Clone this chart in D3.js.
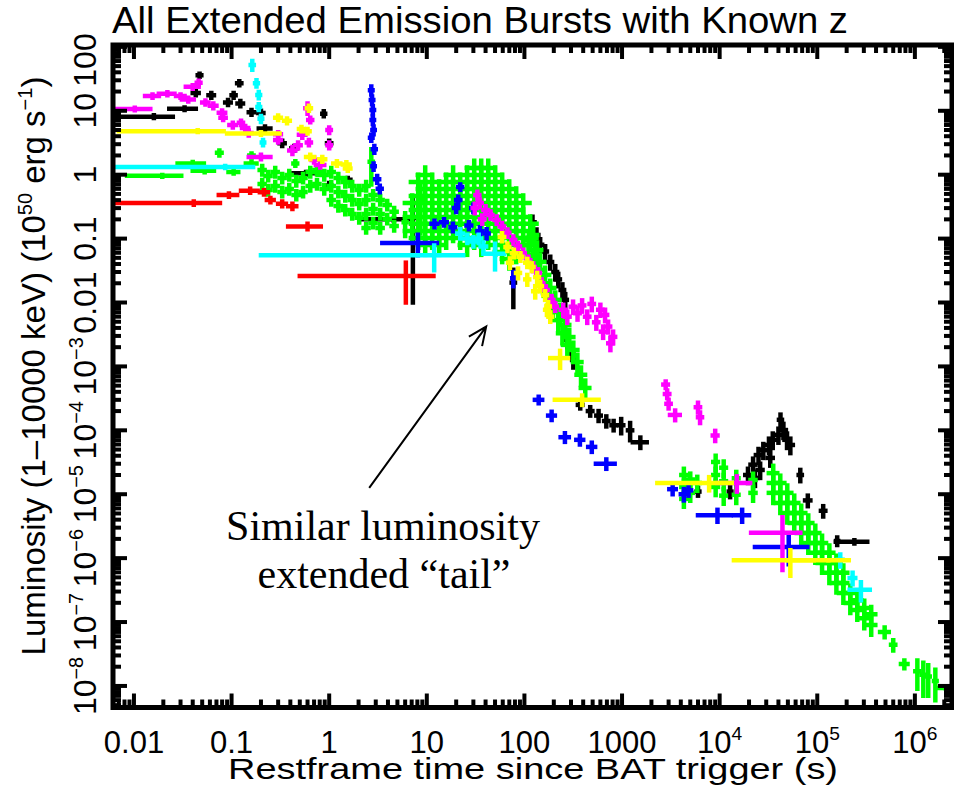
<!DOCTYPE html>
<html>
<head>
<meta charset="utf-8">
<script src="https://cdn.jsdelivr.net/npm/d3@7"></script>
<style>
  body { margin: 0; background: #fff; }
  svg { display: block; }
</style>
</head>
<body>
<svg id="chart" width="954" height="785"></svg>
<script>
// Each point: [time (s), time error, luminosity (1e50 erg/s), luminosity error]
const black = [
  [0.016, 0.009, 8.1, 0.4], [0.033, 0.01, 10.8, 0.5], [0.043, 0.003, 19, 1.5], [0.047, 0.002, 36, 2],
  [0.062, 0.004, 17.5, 1.5], [0.092, 0.006, 13.5, 1.2], [0.105, 0.005, 17.5, 1.5], [0.12, 0.006, 27, 2],
  [0.123, 0.008, 13, 1.2], [0.16, 0.01, 9.5, 0.8], [0.2, 0.012, 9.2, 0.8], [0.22, 0.03, 5.3, 0.4],
  [0.33, 0.02, 3.1, 0.3], [0.44, 0.03, 2.6, 0.2], [0.58, 0.15, 1.05, 0.05], [0.88, 0.03, 9, 0.8],
  [1.0, 0.05, 3.1, 0.3], [1.0, 0.05, 0.68, 0.06], [1.55, 0.1, 0.83, 0.06], [4.6, 2.5, 0.2, 0.01],
  [7.2, 0.3, 0.21, 0.2], [77, 3, 0.0205, 0.012],
  [121, 6, 0.18, 0.04], [133, 6, 0.114, 0.025], [145, 7, 0.08, 0.018], [163, 7, 0.063, 0.013],
  [184, 8, 0.043, 0.009], [207, 9, 0.03, 0.007], [222, 9, 0.023, 0.005], [245, 10, 0.0157, 0.0035],
  [262, 10, 0.011, 0.0025], [275, 8, 0.0026, 0.0006], [295, 8, 0.0018, 0.0004], [317, 9, 0.00126, 0.0003],
  [373, 20, 2.5e-4, 0.3e-4], [472, 25, 2.0e-4, 0.3e-4], [575, 30, 1.7e-4, 0.3e-4], [690, 35, 1.4e-4, 0.25e-4],
  [820, 40, 1.2e-4, 0.2e-4], [980, 50, 1.2e-4, 0.3e-4], [1210, 60, 1.0e-4, 0.3e-4], [1540, 250, 6.5e-5, 1.2e-5],
  [6000, 200, 1.1e-5, 0.15e-5], [1.28e4, 400, 1.1e-5, 0.2e-5],
  [1.95e4, 1200, 2.0e-5, 0.5e-5], [2.2e4, 1300, 2.9e-5, 0.7e-5], [2.3e4, 1400, 1.8e-5, 0.45e-5],
  [2.5e4, 1500, 4.1e-5, 1e-5], [2.6e4, 1500, 2.4e-5, 0.6e-5], [2.8e4, 1700, 4.9e-5, 1.2e-5],
  [3.2e4, 1900, 5.9e-5, 1.5e-5], [3.3e4, 2000, 3.7e-5, 0.9e-5], [3.5e4, 2100, 7.1e-5, 1.8e-5],
  [4.0e4, 2400, 8.5e-5, 2.1e-5], [4.2e4, 1500, 1.46e-4, 0.3e-4], [4.5e4, 2700, 1.01e-4, 0.25e-4],
  [4.9e4, 2900, 7.1e-5, 1.8e-5], [5.3e4, 3200, 5.9e-5, 1.5e-5], [6.7e4, 2500, 2.0e-5, 0.4e-5],
  [8.0e4, 5000, 8.0e-6, 1.5e-6], [1.15e5, 6000, 5.5e-6, 1e-6], [1.6e5, 4000, 1.85e-6, 0.25e-6],
  [2.4e5, 0.85e5, 1.8e-6, 0.1e-6]
];

const red = [
  [0.041, 0.035, 0.36, 0.02], [0.094, 0.02, 0.48, 0.03], [0.155, 0.03, 0.56, 0.04], [0.215, 0.02, 0.53, 0.04],
  [0.25, 0.02, 0.40, 0.03], [0.33, 0.03, 0.35, 0.03], [0.42, 0.04, 0.32, 0.03], [0.6, 0.22, 0.155, 0.015],
  [6.1, 5.6, 0.026, 0.016]
];

const green = [
  // prompt emission and early extended emission
  [0.0195, 0.011, 0.96, 0.03], [0.04, 0.012, 1.5, 0.08], [0.053, 0.013, 1.15, 0.06], [0.075, 0.004, 2.2, 0.2],
  [0.105, 0.012, 1.1, 0.06], [0.16, 0.02, 1.5, 0.1], [0.16, 0.008, 2.0, 0.15],
  [0.45, 0.02, 1.5, 0.12], [0.77, 0.04, 1.1, 0.1], [2.7, 0.1, 1.6, 0.9], [6.0, 0.2, 0.18, 0.07], [8.6, 0.2, 0.4, 0.28],
  [0.206, 0.012, 1.189, 0.18], [0.206, 0.012, 0.718, 0.11], [0.237, 0.014, 0.958, 0.14], [0.237, 0.014, 0.578, 0.09],
  [0.28, 0.017, 1.106, 0.17], [0.28, 0.017, 0.668, 0.1], [0.33, 0.02, 0.891, 0.13], [0.33, 0.02, 0.538, 0.08],
  [0.39, 0.023, 0.993, 0.15], [0.39, 0.023, 0.5995, 0.09], [0.46, 0.028, 0.80, 0.12], [0.46, 0.028, 0.483, 0.07],
  [0.54, 0.032, 0.891, 0.13], [0.54, 0.032, 0.538, 0.08], [0.64, 0.038, 1.106, 0.17], [0.64, 0.038, 0.668, 0.1],
  [0.75, 0.045, 1.189, 0.18], [0.75, 0.045, 0.718, 0.11], [0.89, 0.053, 0.993, 0.15], [0.89, 0.053, 0.5995, 0.09],
  [1.05, 0.063, 1.106, 0.17], [1.05, 0.063, 0.668, 0.1], [1.05, 0.063, 0.403, 0.06],
  [1.24, 0.074, 0.891, 0.13], [1.24, 0.074, 0.538, 0.08], [1.24, 0.074, 0.325, 0.05],
  [1.46, 0.088, 0.771, 0.12], [1.46, 0.088, 0.466, 0.07], [1.46, 0.088, 0.281, 0.04],
  [1.72, 0.1, 0.668, 0.1], [1.72, 0.1, 0.403, 0.06], [1.72, 0.1, 0.2435, 0.037],
  [2.03, 0.12, 0.578, 0.09], [2.03, 0.12, 0.349, 0.05], [2.03, 0.12, 0.211, 0.032],
  [2.39, 0.14, 0.668, 0.1], [2.39, 0.14, 0.403, 0.06], [2.39, 0.14, 0.2435, 0.037], [2.39, 0.14, 0.147, 0.022],
  [2.82, 0.17, 0.483, 0.07], [2.82, 0.17, 0.2917, 0.044], [2.82, 0.17, 0.176, 0.026],
  [3.33, 0.2, 0.403, 0.06], [3.33, 0.2, 0.2435, 0.037], [3.33, 0.2, 0.147, 0.022],
  [3.93, 0.24, 0.337, 0.05], [3.93, 0.24, 0.2034, 0.03], [4.63, 0.28, 0.262, 0.04], [4.63, 0.28, 0.158, 0.024],
  // main bump
  [7.09, 1.13, 0.362, 0.11], [7.09, 1.13, 0.2186, 0.066], [7.09, 1.13, 0.132, 0.04],
  [8.17, 1.3, 0.771, 0.23], [8.17, 1.3, 0.466, 0.14], [8.17, 1.3, 0.281, 0.084], [8.17, 1.3, 0.170, 0.051], [8.17, 1.3, 0.1026, 0.031],
  [9.63, 1.54, 0.993, 0.3], [9.63, 1.54, 0.5995, 0.18], [9.63, 1.54, 0.362, 0.11], [9.63, 1.54, 0.2186, 0.066], [9.63, 1.54, 0.132, 0.04], [9.63, 1.54, 0.0797, 0.024],
  [11.36, 1.82, 0.771, 0.23], [11.36, 1.82, 0.466, 0.14], [11.36, 1.82, 0.281, 0.084], [11.36, 1.82, 0.170, 0.051], [11.36, 1.82, 0.1026, 0.031],
  [13.4, 2.14, 0.5995, 0.18], [13.4, 2.14, 0.362, 0.11], [13.4, 2.14, 0.2186, 0.066], [13.4, 2.14, 0.132, 0.04], [13.4, 2.14, 0.0797, 0.024],
  [15.8, 2.53, 0.771, 0.23], [15.8, 2.53, 0.466, 0.14], [15.8, 2.53, 0.281, 0.084], [15.8, 2.53, 0.170, 0.051], [15.8, 2.53, 0.1026, 0.031],
  [18.6, 2.98, 0.993, 0.3], [18.6, 2.98, 0.5995, 0.18], [18.6, 2.98, 0.362, 0.11], [18.6, 2.98, 0.2186, 0.066], [18.6, 2.98, 0.132, 0.04],
  [22.0, 3.52, 0.771, 0.23], [22.0, 3.52, 0.466, 0.14], [22.0, 3.52, 0.281, 0.084], [22.0, 3.52, 0.170, 0.051], [22.0, 3.52, 0.1026, 0.031],
  [25.9, 4.14, 0.993, 0.3], [25.9, 4.14, 0.5995, 0.18], [25.9, 4.14, 0.362, 0.11], [25.9, 4.14, 0.2186, 0.066], [25.9, 4.14, 0.132, 0.04], [25.9, 4.14, 0.0797, 0.024],
  [30.6, 4.9, 1.278, 0.38], [30.6, 4.9, 0.771, 0.23], [30.6, 4.9, 0.466, 0.14], [30.6, 4.9, 0.281, 0.084], [30.6, 4.9, 0.170, 0.051], [30.6, 4.9, 0.1026, 0.031],
  [36.1, 5.78, 1.278, 0.38], [36.1, 5.78, 0.993, 0.3], [36.1, 5.78, 0.5995, 0.18], [36.1, 5.78, 0.362, 0.11], [36.1, 5.78, 0.2186, 0.066], [36.1, 5.78, 0.132, 0.04], [36.1, 5.78, 0.0797, 0.024],
  [42.6, 6.82, 1.278, 0.38], [42.6, 6.82, 0.771, 0.23], [42.6, 6.82, 0.466, 0.14], [42.6, 6.82, 0.281, 0.084], [42.6, 6.82, 0.170, 0.051], [42.6, 6.82, 0.1026, 0.031],
  [50.2, 8.03, 0.993, 0.3], [50.2, 8.03, 0.5995, 0.18], [50.2, 8.03, 0.362, 0.11], [50.2, 8.03, 0.2186, 0.066], [50.2, 8.03, 0.132, 0.04], [50.2, 8.03, 0.0797, 0.024],
  [59.2, 9.47, 0.771, 0.23], [59.2, 9.47, 0.466, 0.14], [59.2, 9.47, 0.281, 0.084], [59.2, 9.47, 0.170, 0.051], [59.2, 9.47, 0.1026, 0.031], [59.2, 9.47, 0.0619, 0.019],
  [69.9, 11.2, 0.5995, 0.18], [69.9, 11.2, 0.362, 0.11], [69.9, 11.2, 0.2186, 0.066], [69.9, 11.2, 0.132, 0.04], [69.9, 11.2, 0.0797, 0.024], [69.9, 11.2, 0.0481, 0.014],
  [82.4, 13.2, 0.466, 0.14], [82.4, 13.2, 0.281, 0.084], [82.4, 13.2, 0.170, 0.051], [82.4, 13.2, 0.1026, 0.031], [82.4, 13.2, 0.0619, 0.019],
  [97.2, 15.6, 0.362, 0.11], [97.2, 15.6, 0.2186, 0.066], [97.2, 15.6, 0.132, 0.04], [97.2, 15.6, 0.0797, 0.024],
  [114.7, 18.4, 0.170, 0.051], [114.7, 18.4, 0.1026, 0.031],
  // steep decay
  [110, 11, 0.0797, 0.024], [115, 11.5, 0.0955, 0.029], [123, 12, 0.114, 0.034], [123, 12, 0.05, 0.015],
  [129, 13, 0.0556, 0.017], [135, 13.5, 0.0665, 0.02], [138, 14, 0.0324, 0.01], [145, 14.5, 0.0432, 0.013],
  [155, 15.5, 0.02, 0.006], [163, 16, 0.027, 0.008], [175, 17.5, 0.0127, 0.0038], [184, 18, 0.0169, 0.005],
  [196, 20, 0.0082, 0.0025], [207, 21, 0.011, 0.0033], [222, 22, 0.0053, 0.0016], [233, 23, 0.0071, 0.0021],
  [245, 24, 0.0033, 0.001], [262, 26, 0.00446, 0.0013], [275, 27, 0.00217, 0.00065], [288, 29, 0.00288, 0.00086],
  [317, 32, 0.00181, 0.00054], [349, 35, 0.00117, 0.00035], [380, 38, 7.4e-4, 2.2e-4], [420, 42, 4.6e-4, 1.4e-4],
  // late plateau
  [4300, 250, 2.0e-5, 0.5e-5], [4300, 250, 1.3e-5, 0.32e-5], [4300, 250, 8.45e-6, 2.1e-6],
  [5000, 300, 1.7e-5, 0.4e-5], [5000, 300, 1.05e-5, 0.26e-5], [5900, 350, 1.5e-5, 0.37e-5],
  [9100, 500, 3.2e-5, 0.8e-5], [9100, 500, 2.0e-5, 0.5e-5], [9100, 500, 1.3e-5, 0.33e-5],
  [1.1e4, 600, 2.6e-5, 0.65e-5], [1.1e4, 600, 1.6e-5, 0.4e-5], [1.1e4, 600, 9.5e-6, 2.4e-6],
  [1.48e4, 800, 1.78e-5, 0.45e-5], [1.48e4, 800, 9.8e-6, 2.5e-6],
  [2.2e4, 1300, 1.67e-5, 0.42e-5], [2.2e4, 1300, 1.05e-5, 0.26e-5],
  // late decay
  [3.54e4, 3500, 2.14e-5, 0.64e-5], [3.54e4, 3500, 1.5e-5, 0.45e-5], [3.54e4, 3500, 1.05e-5, 0.32e-5],
  [4.18e4, 4200, 1.5e-5, 0.45e-5], [4.18e4, 4200, 1.05e-5, 0.32e-5], [4.18e4, 4200, 7.3e-6, 2.2e-6],
  [4.93e4, 4900, 1.05e-5, 0.32e-5], [4.93e4, 4900, 7.3e-6, 2.2e-6], [4.93e4, 4900, 5.1e-6, 1.5e-6],
  [5.81e4, 5800, 7.3e-6, 2.2e-6], [5.81e4, 5800, 5.1e-6, 1.5e-6], [5.81e4, 5800, 3.56e-6, 1.07e-6],
  [6.85e4, 6900, 5.1e-6, 1.5e-6], [6.85e4, 6900, 3.56e-6, 1.07e-6], [6.85e4, 6900, 2.48e-6, 0.74e-6],
  [8.09e4, 8100, 3.56e-6, 1.07e-6], [8.09e4, 8100, 2.48e-6, 0.74e-6], [8.09e4, 8100, 1.73e-6, 0.52e-6],
  [9.55e4, 9500, 2.48e-6, 0.74e-6], [9.55e4, 9500, 1.73e-6, 0.52e-6], [9.55e4, 9500, 1.21e-6, 0.36e-6],
  [1.12e5, 1.1e4, 1.73e-6, 0.52e-6], [1.12e5, 1.1e4, 1.21e-6, 0.36e-6], [1.12e5, 1.1e4, 8.4e-7, 2.5e-7],
  [1.33e5, 1.3e4, 1.21e-6, 0.36e-6], [1.33e5, 1.3e4, 8.4e-7, 2.5e-7], [1.33e5, 1.3e4, 5.9e-7, 1.8e-7],
  [1.57e5, 1.6e4, 8.4e-7, 2.5e-7], [1.57e5, 1.6e4, 5.9e-7, 1.8e-7], [1.57e5, 1.6e4, 4.1e-7, 1.2e-7],
  [1.85e5, 1.8e4, 5.9e-7, 1.8e-7], [1.85e5, 1.8e4, 4.1e-7, 1.2e-7], [1.85e5, 1.8e4, 2.85e-7, 0.85e-7],
  [2.18e5, 2.2e4, 2.85e-7, 0.85e-7], [2.18e5, 2.2e4, 1.99e-7, 0.6e-7],
  [2.57e5, 2.6e4, 2.2e-7, 0.66e-7], [2.57e5, 2.6e4, 1.55e-7, 0.46e-7],
  [3.03e5, 3e4, 1.66e-7, 0.5e-7], [3.03e5, 3e4, 1.15e-7, 0.35e-7],
  [3.57e5, 3.6e4, 1.32e-7, 0.4e-7], [3.57e5, 3.6e4, 9e-8, 2.7e-8],
  [4.9e5, 5e4, 7e-8, 1.2e-8], [6e5, 3e4, 4.4e-8, 0.8e-8], [7.8e5, 6e4, 2.2e-8, 0.3e-8],
  [1.06e6, 0.05e6, 1.7e-8, 0.8e-8], [1.22e6, 0.05e6, 1.5e-8, 0.8e-8], [1.37e6, 0.05e6, 1.4e-8, 0.7e-8],
  [1.62e6, 0.05e6, 1.2e-8, 0.6e-8], [2.05e6, 0.38e6, 9.3e-9, 0], [2.42e6, 0.02e6, 8e-9, 4e-9]
];

const blue = [
  [2.7, 0.08, 21, 3], [2.75, 0.08, 14.8, 2], [2.8, 0.08, 10.3, 1.5], [2.8, 0.08, 7.2, 1], [2.85, 0.08, 5.0, 0.7],
  [2.7, 0.08, 3.8, 0.4], [2.9, 0.1, 2.5, 0.3], [2.85, 0.08, 1.35, 0.15], [3.1, 0.15, 0.85, 0.1], [3.3, 0.15, 0.6, 0.07],
  [8.1, 4.6, 0.085, 0.03], [12, 0.8, 0.17, 0.02], [15, 1, 0.18, 0.02], [18.5, 1, 0.15, 0.02], [20, 1, 0.3, 0.04],
  [21, 1, 0.4, 0.05], [22, 1, 0.64, 0.06], [27, 1.5, 0.16, 0.02], [30, 1.5, 0.3, 0.04], [35, 2, 0.13, 0.02],
  [41, 2, 0.12, 0.02], [77, 2, 0.024, 0.006],
  [140, 12, 3.0e-4, 0.35e-4], [190, 15, 1.7e-4, 0.25e-4], [260, 25, 7.8e-5, 1.2e-5], [370, 30, 7.1e-5, 1.1e-5],
  [490, 40, 5.5e-5, 0.9e-5], [690, 150, 3.0e-5, 0.5e-5],
  [3300, 250, 1.2e-5, 0.2e-5], [4300, 300, 1.0e-5, 0.2e-5], [4800, 300, 1.15e-5, 0.2e-5],
  [9500, 3500, 4.7e-6, 1e-6], [1.7e4, 3000, 4.7e-6, 1e-6], [5.1e4, 2.8e4, 1.5e-6, 0.7e-6]
];

const cyan = [
  [0.086, 0.08, 1.32, 0.05], [0.163, 0.006, 52, 8], [0.18, 0.006, 27, 3], [0.19, 0.006, 17.7, 2],
  [0.19, 0.006, 11.5, 1.2], [0.2, 0.006, 7.5, 0.8], [0.21, 0.006, 3.2, 0.3],
  [11.9, 11.7, 0.055, 0.023], [22, 1.5, 0.12, 0.02], [26, 2, 0.1, 0.015], [30, 2, 0.09, 0.015],
  [34, 2, 0.1, 0.015], [38, 2.5, 0.075, 0.012], [50, 12, 0.058, 0.025],
  [1.72e5, 0.1e5, 9.4e-7, 2e-7], [2.3e5, 0.15e5, 4.9e-7, 1e-7], [2.8e5, 0.65e5, 3.2e-7, 1e-7]
];

const magenta = [
  [0.0102, 0.0045, 10.7, 0.5], [0.0155, 0.0025, 17, 1], [0.022, 0.004, 18.5, 1], [0.03, 0.003, 17, 1],
  [0.036, 0.005, 15, 1], [0.04, 0.006, 23.7, 1.5], [0.046, 0.002, 27.5, 2], [0.054, 0.004, 13.5, 1],
  [0.065, 0.005, 12, 1], [0.08, 0.006, 9.3, 0.8], [0.082, 0.005, 7.8, 0.6], [0.103, 0.008, 6.0, 0.5],
  [0.125, 0.006, 6.5, 0.5], [0.138, 0.01, 5.4, 0.4], [0.15, 0.01, 4.5, 0.4], [0.2, 0.05, 1.9, 0.15],
  [0.3, 0.02, 4.3, 0.3], [0.3, 0.02, 3.5, 0.3], [0.42, 0.03, 2.4, 0.3], [0.48, 0.03, 2.9, 0.3],
  [0.53, 0.04, 4.2, 0.4], [0.6, 0.03, 11, 2], [0.64, 0.03, 7.2, 0.6], [0.62, 0.03, 3.2, 0.3],
  [0.81, 0.08, 1.42, 0.12], [0.7, 0.04, 1.7, 0.15], [1.0, 0.04, 5.0, 0.5], [1.0, 0.04, 2.9, 0.3],
  [33, 1.5, 0.48, 0.06], [35, 1.5, 0.36, 0.05], [31, 1.5, 0.3, 0.05], [40, 2, 0.28, 0.04],
  [45, 2, 0.235, 0.03], [37, 2, 0.2, 0.03], [52, 2.5, 0.196, 0.025], [59, 3, 0.155, 0.02],
  [67, 3, 0.123, 0.016], [77, 3.5, 0.095, 0.013], [86, 4, 0.075, 0.01], [97, 4, 0.059, 0.008],
  [110, 5, 0.046, 0.006], [123, 5, 0.036, 0.005], [138, 6, 0.029, 0.004], [150, 6, 0.02, 0.003],
  [166, 7, 0.0157, 0.0022], [190, 8, 0.011, 0.0016], [207, 8, 0.0086, 0.0012],
  [250, 15, 0.0077, 0.0015], [275, 15, 0.006, 0.0012], [315, 17, 0.0086, 0.0017], [350, 18, 0.0068, 0.0014],
  [390, 20, 0.009, 0.0018], [440, 22, 0.006, 0.0012], [490, 25, 0.0095, 0.0019], [545, 27, 0.0049, 0.001],
  [600, 30, 0.0077, 0.0015], [640, 32, 0.0035, 0.0007], [670, 34, 0.0064, 0.0013], [720, 36, 0.0042, 0.0008],
  [760, 38, 0.0023, 0.0005], [810, 40, 0.0029, 0.0006],
  [2800, 150, 5.2e-4, 0.6e-4], [2900, 150, 3.7e-4, 0.5e-4], [3000, 150, 2.6e-4, 0.4e-4], [3500, 400, 1.74e-4, 0.3e-4],
  [6000, 300, 2.3e-4, 0.4e-4], [6300, 300, 1.6e-4, 0.3e-4], [9000, 500, 8.3e-5, 1.5e-5],
  [1.5e4, 0.55e4, 1.5e-5, 0.4e-5], [4.4e4, 2.3e4, 2.5e-6, 1.85e-6]
];

const yellow = [
  [0.045, 0.038, 4.8, 0.15], [0.2, 0.11, 4.4, 0.2], [0.3, 0.02, 7.8, 0.6], [0.37, 0.025, 7.0, 0.6],
  [0.52, 0.03, 5.2, 0.4], [0.6, 0.03, 4.8, 0.4], [0.62, 0.03, 11, 1], [0.64, 0.06, 1.9, 0.15],
  [0.85, 0.06, 1.75, 0.15], [1.2, 0.1, 1.5, 0.12], [1.5, 0.12, 1.45, 0.12], [1.55, 0.1, 1.25, 0.1],
  [59, 3, 0.106, 0.015], [67, 3, 0.074, 0.01], [71, 3, 0.042, 0.007], [78, 3.5, 0.059, 0.008],
  [86, 4, 0.029, 0.005], [91, 4, 0.052, 0.007], [107, 5, 0.042, 0.006], [107, 5, 0.023, 0.004],
  [119, 5, 0.036, 0.005], [129, 6, 0.015, 0.003], [135, 6, 0.025, 0.004], [145, 6, 0.018, 0.003],
  [163, 7, 0.013, 0.002], [170, 7, 0.0077, 0.0013], [175, 7, 0.0087, 0.0014], [184, 8, 0.006, 0.001],
  [232, 48, 1.35e-3, 0.4e-3], [390, 185, 3.0e-4, 0.5e-4], [7800, 5500, 1.5e-5, 0.35e-5],
  [5.3e4, 3.9e4, 9.3e-7, 4e-7], [1.3e5, 0.8e5, 9.3e-7, 0]
];

const xTickValues = [0.01, 0.1, 1, 10, 100, 1000, 1e4, 1e5, 1e6];
const xTickLabels = [["0.01"], ["0.1"], ["1"], ["10"], ["100"], ["1000"], ["10", "4"], ["10", "5"], ["10", "6"]];
const yTickValues = [1e-8, 1e-7, 1e-6, 1e-5, 1e-4, 1e-3, 0.01, 0.1, 1, 10, 100];
const yTickLabels = [["10", "\u22128"], ["10", "\u22127"], ["10", "\u22126"], ["10", "\u22125"], ["10", "\u22124"],
  ["10", "\u22123"], ["0.01"], ["0.1"], ["1"], ["10"], ["100"]];

// arrow annotation, in data coordinates [time, luminosity]
const arrowFrom = [2.57, 1.26e-5];
const arrowTo = [40.6, 4.2e-3];

const svg = d3.select("#chart");
const plotLeft = 113, plotRight = 952, plotTop = 45, plotBottom = 707.5;

const x = d3.scaleLog().domain([0.0061, 2.4e6]).range([plotLeft, plotRight]);
const y = d3.scaleLog().domain([4.6e-9, 107]).range([plotBottom, plotTop]);

svg.append("defs").append("clipPath").attr("id", "clip")
  .append("rect").attr("x", plotLeft).attr("y", plotTop)
  .attr("width", plotRight - plotLeft).attr("height", plotBottom - plotTop);

const plot = svg.append("g").attr("clip-path", "url(#clip)");

const series = [
  { data: black, color: "#000000" },
  { data: green, color: "#00ff00" },
  { data: red, color: "#ff0000" },
  { data: blue, color: "#0000ff" },
  { data: cyan, color: "#00ffff" },
  { data: magenta, color: "#ff00ff" },
  { data: yellow, color: "#ffff00" }
];

const xMin = x.domain()[0], yMin = y.domain()[0];

series.forEach(s => {
  const g = plot.append("g")
    .attr("stroke", s.color)
    .attr("stroke-width", 4.5)
    .attr("stroke-linecap", "square");

  // horizontal (time) error bars
  g.selectAll("line.h").data(s.data).enter().append("line")
    .attr("class", "h")
    .attr("x1", d => x(d[0] - d[1] > xMin ? d[0] - d[1] : xMin))
    .attr("x2", d => x(d[0] + d[1]))
    .attr("y1", d => y(d[2]))
    .attr("y2", d => y(d[2]));

  // vertical (luminosity) error bars
  g.selectAll("line.v").data(s.data).enter().append("line")
    .attr("class", "v")
    .attr("x1", d => x(d[0]))
    .attr("x2", d => x(d[0]))
    .attr("y1", d => y(d[2] - d[3] > yMin ? d[2] - d[3] : yMin))
    .attr("y2", d => y(d[2] + d[3]));
});

// frame
svg.append("rect")
  .attr("x", plotLeft).attr("y", plotTop)
  .attr("width", plotRight - plotLeft).attr("height", plotBottom - plotTop)
  .attr("fill", "none").attr("stroke", "#000").attr("stroke-width", 5);

// ticks on all four sides, pointing inward
const minorOf = scale => {
  const [a, b] = scale.domain();
  const out = [];
  for (let e = Math.floor(Math.log10(a)); e <= Math.ceil(Math.log10(b)); e++) {
    for (let k = 2; k <= 9; k++) {
      const v = k * Math.pow(10, e);
      if (v > a && v < b) out.push(v);
    }
  }
  return out;
};

const ticks = svg.append("g").attr("stroke", "#000").attr("stroke-width", 4);
const majorLen = 14, minorLen = 8;

[[xTickValues, majorLen], [minorOf(x), minorLen]].forEach(([vals, len]) => {
  vals.forEach(v => {
    ticks.append("line").attr("x1", x(v)).attr("x2", x(v)).attr("y1", plotBottom).attr("y2", plotBottom - len);
    ticks.append("line").attr("x1", x(v)).attr("x2", x(v)).attr("y1", plotTop).attr("y2", plotTop + len);
  });
});
[[yTickValues, majorLen], [minorOf(y), minorLen]].forEach(([vals, len]) => {
  vals.forEach(v => {
    ticks.append("line").attr("y1", y(v)).attr("y2", y(v)).attr("x1", plotLeft).attr("x2", plotLeft + len);
    ticks.append("line").attr("y1", y(v)).attr("y2", y(v)).attr("x1", plotRight).attr("x2", plotRight - len);
  });
});

const font = "'Liberation Sans', Arial, Helvetica, sans-serif";

const addLabel = (sel, parts, size) => {
  sel.append("tspan").text(parts[0]);
  if (parts.length > 1) {
    sel.append("tspan").attr("dy", -size * 0.42).attr("font-size", size * 0.62).text(parts[1]);
  }
};

// x tick labels
xTickValues.forEach((v, i) => {
  const t = svg.append("text")
    .attr("x", x(v)).attr("y", 753)
    .attr("text-anchor", "middle")
    .attr("font-family", font).attr("font-size", 31);
  addLabel(t, xTickLabels[i], 31);
});

// y tick labels, rotated
yTickValues.forEach((v, i) => {
  const cy = Math.max(y(v), 60);
  const t = svg.append("text")
    .attr("transform", `translate(96,${cy}) rotate(-90)`)
    .attr("text-anchor", "middle")
    .attr("font-family", font).attr("font-size", 32);
  addLabel(t, yTickLabels[i], 32);
});

// title
svg.append("text")
  .attr("x", 112).attr("y", 33)
  .attr("font-family", font).attr("font-size", 36)
  .attr("textLength", 736).attr("lengthAdjust", "spacingAndGlyphs")
  .text("All Extended Emission Bursts with Known z");

// x axis title
svg.append("text")
  .attr("x", 228).attr("y", 779)
  .attr("font-family", font).attr("font-size", 30)
  .attr("textLength", 610).attr("lengthAdjust", "spacingAndGlyphs")
  .text("Restframe time since BAT trigger (s)");

// y axis title
const yt = svg.append("text")
  .attr("transform", "translate(45,366) rotate(-90)")
  .attr("text-anchor", "middle")
  .attr("font-family", font).attr("font-size", 33);
yt.append("tspan").text("Luminosity (1\u201310000 keV) (10");
yt.append("tspan").attr("dy", -13).attr("font-size", 20).text("50");
yt.append("tspan").attr("dy", 13).text(" erg s");
yt.append("tspan").attr("dy", -13).attr("font-size", 20).text("\u22121");
yt.append("tspan").attr("dy", 13).text(")");

// annotation arrow
const ax1 = x(arrowFrom[0]), ay1 = y(arrowFrom[1]);
const ax2 = x(arrowTo[0]), ay2 = y(arrowTo[1]);
const ang = Math.atan2(ay2 - ay1, ax2 - ax1);
const head = 20, spread = 0.42;
svg.append("path")
  .attr("d", `M${ax1},${ay1}L${ax2},${ay2}` +
    `M${ax2 - head * Math.cos(ang - spread)},${ay2 - head * Math.sin(ang - spread)}L${ax2},${ay2}` +
    `L${ax2 - head * Math.cos(ang + spread)},${ay2 - head * Math.sin(ang + spread)}`)
  .attr("fill", "none").attr("stroke", "#000").attr("stroke-width", 2);

const serif = "'Liberation Serif', 'Times New Roman', Times, serif";
svg.append("text")
  .attr("x", 383).attr("y", 540).attr("text-anchor", "middle")
  .attr("font-family", serif).attr("font-size", 42)
  .text("Similar luminosity");
svg.append("text")
  .attr("x", 384).attr("y", 588).attr("text-anchor", "middle")
  .attr("font-family", serif).attr("font-size", 42)
  .text("extended \u201ctail\u201d");
</script>
</body>
</html>
